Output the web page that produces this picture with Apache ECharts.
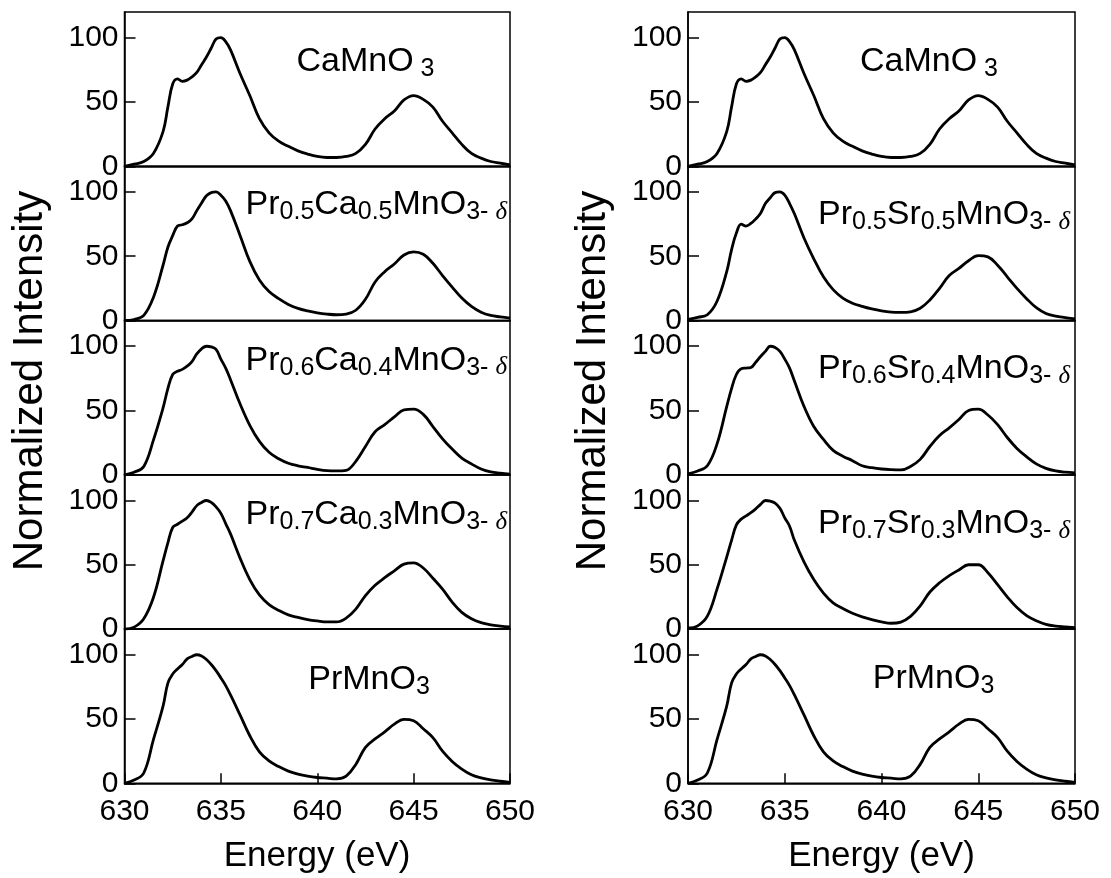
<!DOCTYPE html>
<html>
<head>
<meta charset="utf-8">
<script src="https://cdn.jsdelivr.net/npm/echarts@6/dist/echarts.min.js"></script>
<style>
html,body{margin:0;padding:0;background:#fff;}
#main{width:1111px;height:878px;}
</style>
</head>
<body>
<div id="main"></div>
<script>
// energy grid (eV), denser around the L3 peak
const energy = [630, 630.5, 631, 631.5, 632, 632.25, 632.5, 632.75, 633, 633.25, 633.5, 633.75, 634, 634.25, 634.5, 634.75, 635, 635.25, 635.5, 636, 636.5, 637, 637.5, 638, 638.5, 639, 639.5, 640, 640.5, 641, 641.5, 642, 642.5, 643, 643.5, 644, 644.5, 645, 645.5, 646, 646.5, 647, 647.5, 648, 648.5, 649, 649.5, 650];

const caMnO3 = [0, 1.6, 3.7, 10, 27, 46, 64, 68, 66, 67, 69.5, 73, 79, 85, 92, 99, 100, 97, 90.5, 72, 55, 37, 26, 19.5, 15.5, 12, 9.5, 7.6, 6.8, 6.8, 7.6, 10, 17, 29, 37, 43, 51.6, 55, 52, 46, 35, 26, 17, 10, 6.3, 3.7, 2.4, 1];
const prCa55 = [0, 0.8, 4, 18, 43, 57, 66, 73.5, 74.5, 76, 79, 85.5, 91.5, 97, 99.5, 100, 97.5, 93, 85.5, 66, 46, 31.5, 22.5, 17, 12.5, 9.5, 7.5, 6, 5, 4.5, 5, 8, 16.5, 30, 38, 44, 51, 53.4, 51.5, 44.5, 35, 26, 17.5, 11, 6.5, 4, 2.8, 1.8];
const prCa64 = [0, 2, 6.5, 27, 52, 67, 78, 80.5, 82, 84.5, 88, 94, 98, 100, 99.5, 97.5, 90, 83, 74, 55, 38.5, 26, 17.5, 12.5, 9, 7, 5.7, 4.2, 3.2, 3, 3.5, 10.5, 22, 33.5, 39, 45, 50.5, 51, 47, 37.5, 28, 20, 13, 8.5, 4.5, 2.2, 1.2, 0.5];
const prCa73 = [0, 1.5, 8, 24.5, 53, 67, 79, 81.5, 84, 86.5, 91, 96, 98.5, 100, 98.5, 95, 90, 82, 74, 55, 38.5, 26.5, 19, 14.5, 11, 9, 7.4, 6.3, 5.5, 5.5, 8.5, 15.5, 26, 34, 40, 45.3, 50.5, 51.5, 47.5, 39.5, 31, 21, 13, 8, 5, 3.3, 2.3, 1.6];
const prMnO3 = [0, 2.5, 8, 34, 60, 78, 85, 89, 92.4, 96.8, 98.7, 100, 99, 96.3, 92.4, 87.6, 82, 76, 68.7, 53, 37, 24.5, 17.4, 13, 9.5, 7.1, 5.5, 4.5, 4, 3.4, 5.5, 14.7, 28, 34.5, 40, 46, 49.7, 48.7, 42.4, 35.5, 25, 17, 11, 6.6, 4.2, 2.6, 1.6, 0.8];
const prSr55 = [0.8, 2.5, 4.5, 15, 38, 55, 68, 75, 73.5, 75.5, 79, 83.5, 91, 95.5, 99.5, 100, 97.5, 91, 83, 64, 48, 34, 24, 17.5, 13.5, 11, 9, 7.5, 6.6, 6.4, 6.8, 9.5, 16, 25, 35, 40.5, 46.5, 50.5, 49.5, 43, 34, 25, 17, 10, 5.5, 3.5, 2.3, 1.2];
const prSr64 = [0.8, 3, 7, 24, 53, 67, 78, 82.5, 83, 83.5, 87.5, 92, 96, 100, 99, 96, 90, 83, 73, 53, 37.5, 27.5, 19, 14.5, 11, 7, 5.5, 4.5, 4, 3.8, 6.5, 12, 22, 30.5, 36.5, 43, 50, 51, 46.5, 39, 29, 20.5, 14, 8.5, 5, 3, 2, 1.5];
const prSr73 = [0.8, 2.5, 10, 31, 56, 69, 81, 85.5, 88, 90.5, 93.5, 97, 100, 99.5, 98, 94, 86.5, 80, 69, 52, 38.5, 28, 20.4, 16, 12.3, 9.5, 7.4, 5.6, 4.5, 5.4, 9.8, 18, 28.8, 36, 41.5, 46, 50, 50, 43.8, 34.5, 25, 16.7, 10.5, 6.5, 3.7, 2.3, 1.6, 1];

const leftCurves = [caMnO3, prCa55, prCa64, prCa73, prMnO3];
const rightCurves = [caMnO3, prSr55, prSr64, prSr73, prMnO3];

const leftNames = [
  '{m|CaMnO}{s| 3}',
  '{m|Pr}{s|0.5}{m|Ca}{s|0.5}{m|MnO}{s|3- }{d|δ}',
  '{m|Pr}{s|0.6}{m|Ca}{s|0.4}{m|MnO}{s|3- }{d|δ}',
  '{m|Pr}{s|0.7}{m|Ca}{s|0.3}{m|MnO}{s|3- }{d|δ}',
  '{m|PrMnO}{s|3}'
];
const rightNames = [
  '{m|CaMnO}{s| 3}',
  '{m|Pr}{s|0.5}{m|Sr}{s|0.5}{m|MnO}{s|3- }{d|δ}',
  '{m|Pr}{s|0.6}{m|Sr}{s|0.4}{m|MnO}{s|3- }{d|δ}',
  '{m|Pr}{s|0.7}{m|Sr}{s|0.3}{m|MnO}{s|3- }{d|δ}',
  '{m|PrMnO}{s|3}'
];

const yTicks = [0, 50, 100];
const FONT = 'Liberation Sans, Arial, sans-serif';

// layout
const colLeft = [124.5, 688];
const colWidth = [385.5, 387];
const rowTop = 12;
const rowH = 154.26;
// label anchors [x, top, align] per column / row
const nameAnchor = [
  [[365.5, 42, 'center'], [507, 185, 'right'], [507, 340.3, 'right'], [507, 495, 'right'], [369, 660, 'center']],
  [[929, 42, 'center'], [1070, 195, 'right'], [1070, 348.5, 'right'], [1070, 503.5, 'right'], [933.5, 658.5, 'center']]
];

const rich = {
  m: {fontSize: 34, fontFamily: FONT, fontWeight: 'normal', color: '#000', lineHeight: 40},
  s: {fontSize: 25, fontFamily: FONT, fontWeight: 'normal', color: '#000', lineHeight: 20, verticalAlign: 'bottom'},
  d: {fontSize: 25, fontFamily: 'Liberation Serif, serif', fontWeight: 'normal', fontStyle: 'italic', color: '#000', lineHeight: 20, verticalAlign: 'bottom'}
};

const grid = [], xAxis = [], yAxis = [], series = [], title = [];
[leftCurves, rightCurves].forEach((curves, c) => {
  curves.forEach((vals, r) => {
    const idx = grid.length;
    const bottom = r === curves.length - 1;
    grid.push({
      left: colLeft[c], width: colWidth[c], top: rowTop + r * rowH, height: rowH,
      show: true, borderColor: '#000', borderWidth: 1.5, backgroundColor: 'transparent'
    });
    xAxis.push({
      type: 'value', gridIndex: idx, min: 630, max: 650, interval: 5,
      axisLine: {show: true, lineStyle: {color: '#000', width: 1.5}},
      axisTick: {show: bottom, inside: true, length: 10, lineStyle: {color: '#000', width: 1.5}},
      axisLabel: {show: bottom, color: '#000', fontSize: 30, fontFamily: FONT, margin: 13},
      splitLine: {show: false}
    });
    yAxis.push({
      type: 'value', gridIndex: idx, min: 0, max: 120,
      axisLine: {show: true, lineStyle: {color: '#000', width: 1.5}},
      axisTick: {show: true, inside: true, length: 11, customValues: yTicks, lineStyle: {color: '#000', width: 1.5}},
      axisLabel: {show: true, customValues: yTicks, color: '#000', fontSize: 30, fontFamily: FONT, margin: 6},
      splitLine: {show: false}
    });
    series.push({
      type: 'line', xAxisIndex: idx, yAxisIndex: idx,
      data: energy.map((e, i) => [e, vals[i]]),
      showSymbol: false, smooth: 0.4,
      lineStyle: {color: '#000', width: 2.8, join: 'round'},
      silent: true
    });
    const a = nameAnchor[c][r];
    title.push({
      text: (c === 0 ? leftNames : rightNames)[r],
      left: a[0], top: a[1], textAlign: a[2], padding: 0,
      textStyle: {fontWeight: 'normal', rich: rich}
    });
  });
});

const graphic = [
  {type: 'text', x: 30, y: 381, rotation: Math.PI / 2,
   style: {text: 'Normalized Intensity', font: '42px ' + FONT, fill: '#000', align: 'center', verticalAlign: 'middle'}},
  {type: 'text', x: 593, y: 381, rotation: Math.PI / 2,
   style: {text: 'Normalized Intensity', font: '42px ' + FONT, fill: '#000', align: 'center', verticalAlign: 'middle'}},
  {type: 'text', x: 317, y: 856,
   style: {text: 'Energy (eV)', font: '35px ' + FONT, fill: '#000', align: 'center', verticalAlign: 'middle'}},
  {type: 'text', x: 881.5, y: 856,
   style: {text: 'Energy (eV)', font: '35px ' + FONT, fill: '#000', align: 'center', verticalAlign: 'middle'}}
];

const chart = echarts.init(document.getElementById('main'));
chart.setOption({
  animation: false,
  backgroundColor: '#fff',
  title: title,
  grid: grid,
  xAxis: xAxis,
  yAxis: yAxis,
  series: series,
  graphic: graphic
});
</script>
</body>
</html>
